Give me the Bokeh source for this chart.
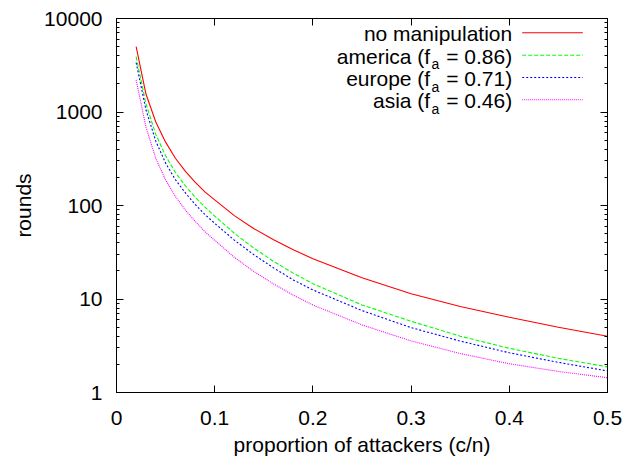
from bokeh.plotting import figure
from bokeh.models import (Range1d, FixedTicker, LinearAxis, LogAxis, Label, Arrow,
                          PrintfTickFormatter, ColumnDataSource)
from bokeh.embed import file_html
from bokeh.resources import INLINE

# ---------------- data ----------------
proportion = [0.02, 0.03, 0.04, 0.05, 0.06, 0.07, 0.08, 0.09, 0.10, 0.12,
              0.14, 0.16, 0.18, 0.20, 0.25, 0.30, 0.35, 0.40, 0.45, 0.50]
no_manipulation = [5000, 1556, 781, 476, 320, 233, 178, 140, 115, 78,
                   56.5, 43, 33.6, 27, 16.9, 11.4, 8.33, 6.38, 4.99, 4.0]
america = [3900, 1222, 575, 340, 225, 163, 123, 96.3, 77, 50.5,
           34.9, 25.2, 18.9, 14.6, 8.64, 5.78, 4.0, 2.97, 2.32, 1.88]
europe = [3375, 1056, 488, 284, 189, 137, 103, 80.2, 64.5, 42.6,
          29.7, 21.5, 16.0, 12.5, 7.52, 4.94, 3.55, 2.66, 2.10, 1.70]
asia = [2200, 689, 319, 188, 125, 89.8, 68, 52.5, 42.5, 27.9,
        19.6, 14.5, 11.0, 8.63, 5.28, 3.56, 2.61, 2.03, 1.68, 1.44]

regions = ["america", "europe", "asia"]
fa_values = ["0.86", "0.71", "0.46"]
x_ticks = [0, 0.1, 0.2, 0.3, 0.4, 0.5]
x_tick_labels = ["0", "0.1", "0.2", "0.3", "0.4", "0.5"]
y_ticks = [1, 10, 100, 1000, 10000]
x_title = "proportion of attackers (c/n)"
y_title = "rounds"

# ---------------- styling ----------------
FONT = "Liberation Sans"
FS = "21px"
colors = ["#ff0000", "#00ff00", "#0000ff", "#ff00ff"]
dashes = ["solid", "4 2", "2 2", "1 1"]

y_minor = [m * 10 ** k for k in range(4) for m in range(2, 10)]

p = figure(width=627, height=458, y_axis_type="log",
           x_range=Range1d(0, 0.5), y_range=Range1d(1, 10000),
           output_backend="svg", toolbar_location=None,
           min_border_left=116, min_border_right=20,
           min_border_top=18, min_border_bottom=64)

p.xgrid.visible = False
p.ygrid.visible = False
p.outline_line_color = "black"
p.outline_line_alpha = 1
p.outline_line_width = 1
p.background_fill_color = "white"
p.border_fill_color = "white"

xa = p.xaxis[0]
xa.ticker = FixedTicker(ticks=x_ticks, minor_ticks=[])
xa.major_label_overrides = {t: l for t, l in zip(x_ticks, x_tick_labels)}
ya = p.yaxis[0]
ya.ticker = FixedTicker(ticks=y_ticks, minor_ticks=y_minor)
ya.formatter = PrintfTickFormatter(format="%d")

for ax in (xa, ya):
    ax.major_tick_in = 7
    ax.major_tick_out = 0
    ax.minor_tick_in = 3
    ax.minor_tick_out = 0
    ax.axis_line_color = "black"
    ax.major_tick_line_color = "black"
    ax.minor_tick_line_color = "black"
    ax.major_label_text_font = FONT
    ax.major_label_text_font_size = FS
    ax.major_label_text_color = "black"
    ax.axis_label_text_font = FONT
    ax.axis_label_text_font_size = FS
    ax.axis_label_text_font_style = "normal"
    ax.axis_label_text_color = "black"

xa.axis_label = x_title
xa.major_label_standoff = 18
xa.axis_label_standoff = 5
ya.axis_label = y_title
ya.major_label_standoff = 14
ya.axis_label_standoff = 6

# mirrored axes (ticks only, labels not drawn)
top = LinearAxis(ticker=FixedTicker(ticks=x_ticks, minor_ticks=[]))
right = LogAxis(ticker=FixedTicker(ticks=y_ticks, minor_ticks=y_minor))
for ax in (top, right):
    ax.major_tick_in = 7
    ax.major_tick_out = 0
    ax.minor_tick_in = 3
    ax.minor_tick_out = 0
    ax.major_label_text_font_size = "1px"
    ax.major_label_text_color = None
    ax.major_label_standoff = 0
    ax.axis_label_standoff = 0
    ax.axis_line_color = "black"
p.add_layout(top, "above")
p.add_layout(right, "right")

# ---------------- curves ----------------
series = [no_manipulation, america, europe, asia]
for ys, c, d in zip(series, colors, dashes):
    src = ColumnDataSource(dict(x=proportion, y=ys))
    p.line("x", "y", source=src, line_color=c, line_width=1.1, line_dash=d)

# ---------------- legend (gnuplot style: text right, sample line) ----------------
row_y = [359.7, 337.3, 315.0, 292.7]     # frame-relative screen px (sample line)
text_right = 395.7
eq_width = 66
a_right = text_right - eq_width - 7
f_right = a_right - 9
sample_x0, sample_x1 = 405.7, 466.3

def add_text(x, y, txt, align, size=FS):
    p.add_layout(Label(x=x, y=y, x_units="screen", y_units="screen", text=txt,
                       text_font=FONT, text_font_size=size, text_color="black",
                       text_align=align, text_baseline="alphabetic"))

add_text(text_right, row_y[0] - 1, "no manipulation", "right")
for i, (name, fa) in enumerate(zip(regions, fa_values)):
    yb = row_y[i + 1] - 1
    add_text(f_right, yb, f"{name} (f", "right")
    add_text(a_right, yb - 8, "a", "right", "14px")
    add_text(text_right, yb, f"= {fa})", "right")

for y, c, d in zip(row_y, colors, dashes):
    p.add_layout(Arrow(x_start=sample_x0, y_start=y, x_end=sample_x1, y_end=y,
                       start_units="screen", end_units="screen", end=None,
                       line_color=c, line_width=1.1, line_dash=d))

open("out.html", "w").write(file_html(p, INLINE))
